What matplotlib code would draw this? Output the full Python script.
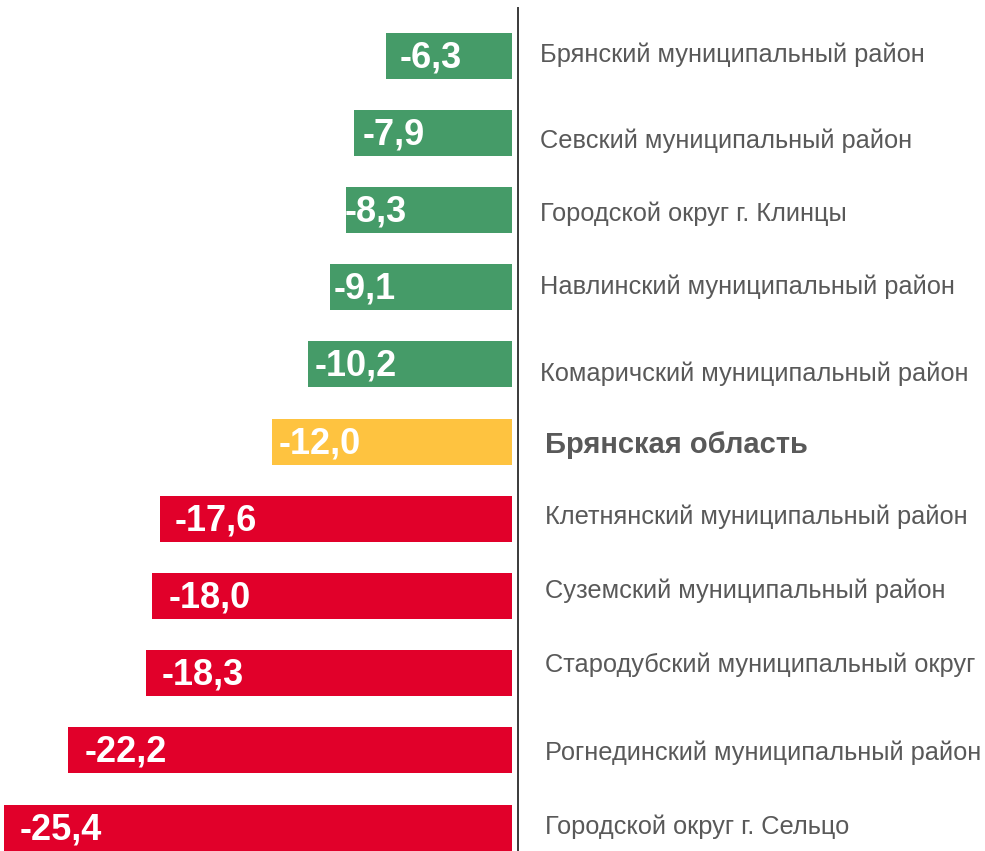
import matplotlib
matplotlib.use("Agg")
import matplotlib.pyplot as plt
from matplotlib.transforms import offset_copy

plt.rcParams['font.family'] = ['Liberation Sans', 'DejaVu Sans']

categories = [
    "Брянский муниципальный район",
    "Севский муниципальный район",
    "Городской округ г. Клинцы",
    "Навлинский муниципальный район",
    "Комаричский муниципальный район",
    "Брянская область",
    "Клетнянский муниципальный район",
    "Суземский муниципальный район",
    "Стародубский муниципальный округ",
    "Рогнединский муниципальный район",
    "Городской округ г. Сельцо",
]
values = [-6.3, -7.9, -8.3, -9.1, -10.2, -12.0, -17.6, -18.0, -18.3, -22.2, -25.4]
groups = ["green"] * 5 + ["region"] + ["red"] * 5

colors = {"green": "#459b68", "region": "#fec340", "red": "#e1002a"}
# style: pixel offsets of labels / value texts
label_dy = [1, -8, -4, 0, -9, -3, 2, 5, 8, -2, 1]
value_dx = [14, 9, -1, 4, 7, 7, 15, 17, 16, 17, 16]

W, H = 985, 851
fig = plt.figure(figsize=(W / 100, H / 100), dpi=100)
ax = fig.add_axes([0, 0, 1, 1])
ax.set_axis_off()

ppu = 20.0      # pixels per unit
x0 = 512.0      # zero line pixel
y0 = 55.5       # first bar centre pixel
step = 77.2
ax.set_xlim(-x0 / ppu, (W - x0) / ppu)
ax.set_ylim((H - y0) / step, -y0 / step)

ys = list(range(len(values)))
ax.barh(ys, values, height=46 / step, color=[colors[g] for g in groups], zorder=2)

# vertical line
ax.plot([6 / ppu, 6 / ppu], [(8 - y0) / step, (H - y0) / step], color="#3a3a3a", lw=1.4, zorder=3)

for i, (c, v, g) in enumerate(zip(categories, values, groups)):
    tr = offset_copy(ax.transData, fig=fig, x=value_dx[i], y=-2, units='dots')
    ax.text(v, i, f"{v:.1f}".replace(".", ","), transform=tr, color="white",
            fontsize=26, fontweight="bold", ha="left", va="center", zorder=4)
    tr2 = offset_copy(ax.transData, fig=fig, x=0, y=label_dy[i], units='dots')
    if g == "region":
        ax.text(33 / ppu, i, c, transform=tr2, color="#595959", fontsize=21,
                fontweight="bold", ha="left", va="center")
    else:
        lx = 28 / ppu if i < 5 else 33 / ppu
        ax.text(lx, i, c, transform=tr2, color="#595959", fontsize=18.3,
                ha="left", va="center")

fig.savefig("out.png", dpi=100)
